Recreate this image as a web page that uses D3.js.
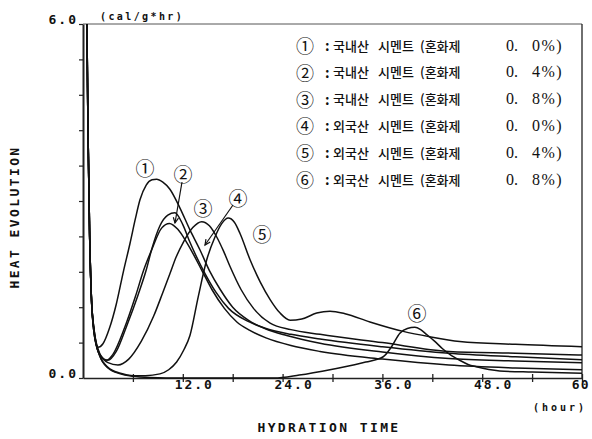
<!DOCTYPE html>
<html>
<head>
<meta charset="utf-8">
<script src="https://cdn.jsdelivr.net/npm/d3@7"></script>
<style>
  html, body { margin: 0; padding: 0; background: #fff; }
  svg { display: block; }
  .mono { font-family: "DejaVu Sans Mono", monospace; font-weight: bold; fill: #111; }
</style>
</head>
<body>
<svg id="chart" width="592" height="439"></svg>
<script>
// Heat evolution rate (cal/g*hr) against hydration time (hour), pairs of [hour, value]
const series1 = [[0.45,6.3],[0.6,4.2],[0.8,2.4],[1.0,1.4],[1.3,0.8],[1.8,0.52],[2.4,0.58],[3.2,0.85],[4.0,1.25],[4.85,1.8],[5.65,2.28],[6.3,2.7],[6.85,3.02],[7.6,3.27],[8.3,3.36],[8.85,3.37],[9.6,3.32],[10.45,3.2],[11.66,2.88],[12.86,2.51],[14.07,2.17],[15.2,1.82],[16.5,1.5],[18,1.2],[20,0.97],[22,0.83],[24.5,0.72],[28.5,0.59],[36,0.44],[44,0.33],[52,0.29],[60,0.26]];
const series2 = [[0.45,6.3],[0.6,4.2],[0.8,2.4],[1.0,1.4],[1.3,0.85],[2.0,0.4],[2.8,0.3],[3.6,0.4],[5.0,0.85],[6.3,1.38],[7.3,1.83],[8.25,2.17],[9.45,2.54],[10.4,2.62],[11.4,2.52],[12.46,2.3],[14.27,1.83],[15.5,1.5],[17,1.18],[18.5,0.95],[20,0.81],[22,0.68],[25,0.55],[28.5,0.45],[36,0.32],[44,0.22],[52,0.17],[60,0.14]];
const series3 = [[0.45,6.3],[0.6,4.2],[0.8,2.4],[1.0,1.4],[1.3,0.85],[2.0,0.42],[3.0,0.26],[4.2,0.22],[5.5,0.32],[7,0.62],[8.5,1.05],[9.6,1.45],[10.46,1.77],[11.2,2.05],[12.06,2.3],[13.2,2.55],[14.27,2.65],[15.2,2.58],[16.08,2.39],[16.9,2.15],[17.68,1.89],[19,1.5],[20.5,1.18],[22.5,0.93],[25,0.82],[28.5,0.74],[36,0.6],[44,0.45],[52,0.42],[60,0.39]];
const series4 = [[0.45,6.3],[0.6,4.2],[0.8,2.4],[1.0,1.4],[1.3,0.85],[2.0,0.4],[3.0,0.3],[4.0,0.45],[5.3,0.9],[6.6,1.4],[7.6,1.83],[8.3,2.2],[9.25,2.58],[10.2,2.76],[11.05,2.8],[12,2.6],[12.86,2.3],[14.67,1.77],[16,1.45],[17.5,1.18],[20,0.95],[22,0.84],[25,0.74],[28.5,0.66],[36,0.53],[44,0.42],[52,0.36],[60,0.31]];
const series5 = [[0.45,6.3],[0.6,4.2],[0.8,2.4],[1.0,1.4],[1.3,0.8],[2.0,0.38],[3.0,0.18],[4.5,0.08],[6,0.04],[7.5,0.04],[9.25,0.07],[10.3,0.14],[11.26,0.27],[12.1,0.47],[12.86,0.72],[13.86,1.38],[14.87,2.0],[15.87,2.39],[16.7,2.62],[17.46,2.71],[18.2,2.64],[18.88,2.45],[20.1,2.0],[21.3,1.63],[22.5,1.33],[23.7,1.1],[24.9,0.98],[26.3,1.0],[28.1,1.1],[29.7,1.13],[31.5,1.09],[34.5,0.95],[38.5,0.79],[41.7,0.7],[45.3,0.62],[52,0.57],[60,0.53]];
const series6 = [[0.45,6.3],[0.6,4.2],[0.8,2.4],[1.0,1.4],[1.3,0.8],[2.0,0.38],[3.0,0.17],[4.5,0.07],[6,0.03],[8,0.01],[12,0.0],[18,0.0],[23,0.0],[26,0.05],[30,0.15],[34,0.27],[36.1,0.36],[37.1,0.53],[38.1,0.76],[39,0.84],[39.9,0.86],[40.6,0.82],[41.3,0.74],[42.3,0.62],[43.2,0.5],[44.1,0.4],[45.3,0.3],[46.3,0.23],[47.3,0.19],[50.1,0.12],[54,0.1],[60,0.08]];

const seriesMarks = ["①","②","③","④","⑤","⑥"];
const cementOrigin = ["국내산","국내산","국내산","외국산","외국산","외국산"];
const admixtureWhole = ["0.","0.","0.","0.","0.","0."];
const admixtureTenth = ["0%)","4%)","8%)","0%)","4%)","8%)"];

const xTicks = [6,12,18,24,30,36,42,48,54,60];
const xTickLabels = [12,24,36,48,60];
const yTicks = [0,0.6,1.2,1.8,2.4,3.0,3.6,4.2,4.8,5.4,6.0];
const yTickLabels = [0,6];

const svg = d3.select("#chart");
const plotLeft = 83, plotRight = 582, plotTop = 24, plotBottom = 378;

const x = d3.scaleLinear().domain([0, 60]).range([plotLeft, plotRight]);
const y = d3.scaleLinear().domain([0, 6]).range([plotBottom, plotTop]);

// clip region for the curves (initial spike runs off the top)
svg.append("defs").append("clipPath").attr("id", "plotClip")
  .append("rect").attr("x", plotLeft).attr("y", plotTop)
  .attr("width", plotRight - plotLeft).attr("height", plotBottom - plotTop + 2);

// frame: top and right borders
svg.append("line").attr("x1", plotLeft).attr("x2", plotRight).attr("y1", plotTop).attr("y2", plotTop)
  .attr("stroke", "#555").attr("stroke-width", 1);
svg.append("line").attr("x1", plotRight).attr("x2", plotRight).attr("y1", plotTop).attr("y2", plotBottom)
  .attr("stroke", "#222").attr("stroke-width", 1.3);

// x axis; the last label sits at the right edge, so it drops the decimal
const xAxis = svg.append("g").attr("transform", `translate(0,${plotBottom})`)
  .call(d3.axisBottom(x).tickValues(xTicks).tickSize(4).tickSizeOuter(0)
    .tickFormat(d => !xTickLabels.includes(d) ? "" : (d === 60 ? "60" : d.toFixed(1))));
xAxis.select(".domain").attr("stroke", "#222").attr("stroke-width", 1.4);
xAxis.selectAll(".tick line").attr("y1", -4).attr("stroke", "#222").attr("stroke-width", 1.3);
xAxis.selectAll(".tick text").attr("class", "mono").attr("font-size", 13)
  .attr("letter-spacing", d => d === 60 ? 1 : 2).attr("dx", d => d === 60 ? 0 : 11)
  .attr("text-anchor", d => d === 60 ? "end" : "middle")
  .attr("x", d => d === 60 ? 7 : 0)
  .attr("dy", 4).attr("fill", "#111");

// y axis
const yAxis = svg.append("g").attr("transform", `translate(${plotLeft},0)`)
  .call(d3.axisLeft(y).tickValues(yTicks).tickSize(4).tickSizeOuter(0)
    .tickFormat(d => yTickLabels.includes(d) ? d.toFixed(1) : ""));
yAxis.select(".domain").attr("stroke", "#222").attr("stroke-width", 2);
yAxis.selectAll(".tick line").attr("stroke", "#222").attr("stroke-width", 1.2);
yAxis.selectAll(".tick text").attr("class", "mono").attr("font-size", 13)
  .attr("letter-spacing", 2).attr("dy", -1).attr("dx", 2).attr("fill", "#111");

// units and axis titles
svg.append("text").attr("class", "mono").attr("x", 100).attr("y", 20)
  .attr("font-size", 10).attr("letter-spacing", 2.4).text("(cal/g*hr)");
svg.append("text").attr("class", "mono").attr("x", 533).attr("y", 411)
  .attr("font-size", 10).attr("letter-spacing", 3).text("(hour)");
svg.append("text").attr("class", "mono").attr("x", 329).attr("y", 432)
  .attr("text-anchor", "middle").attr("font-size", 13).attr("letter-spacing", 2.4)
  .text("HYDRATION TIME");
svg.append("text").attr("class", "mono").attr("font-weight", "normal")
  .attr("transform", "translate(19,217) rotate(-90)")
  .attr("text-anchor", "middle").attr("font-size", 13).attr("letter-spacing", 2.4)
  .text("HEAT EVOLUTION");

// curves
const line = d3.line().x(d => x(d[0])).y(d => y(d[1])).curve(d3.curveMonotoneX);
const plot = svg.append("g").attr("clip-path", "url(#plotClip)");
[series1, series2, series3, series4, series5, series6].forEach(s => {
  plot.append("path").datum(s).attr("d", line)
    .attr("fill", "none").attr("stroke", "#111").attr("stroke-width", 1.5)
    .attr("stroke-linejoin", "round");
});

// curve markers
const markerPos = [[145,167],[183,173],[203,207],[238,197],[262,233],[417,312]];
const markFont = "'Noto Sans CJK KR', sans-serif";
markerPos.forEach((p, i) => {
  svg.append("text").attr("x", p[0]).attr("y", p[1]).attr("text-anchor", "middle")
    .attr("dominant-baseline", "central").attr("font-family", markFont)
    .attr("font-size", 19).attr("fill", "#111").text(seriesMarks[i]);
});

// pointer arrows for ② and ④
function arrow(x1, y1, x2, y2) {
  svg.append("line").attr("x1", x1).attr("y1", y1).attr("x2", x2).attr("y2", y2)
    .attr("stroke", "#111").attr("stroke-width", 1.2);
  const a = Math.atan2(y2 - y1, x2 - x1), L = 6, w = 0.45;
  const p1 = [x2 - L * Math.cos(a - w), y2 - L * Math.sin(a - w)];
  const p2 = [x2 - L * Math.cos(a + w), y2 - L * Math.sin(a + w)];
  svg.append("path").attr("d", `M${p1}L${x2},${y2}L${p2}`)
    .attr("fill", "none").attr("stroke", "#111").attr("stroke-width", 1.2);
}
arrow(182, 182, 175, 223);
arrow(233, 205, 205, 245);

// legend
const legendRow0 = 45, legendStep = 26.8;
seriesMarks.forEach((m, i) => {
  const yy = legendRow0 + i * legendStep;
  const g = svg.append("g").attr("font-family", markFont).attr("fill", "#111")
    .attr("dominant-baseline", "central");
  g.append("text").attr("x", 305).attr("y", yy).attr("text-anchor", "middle")
    .attr("font-size", 18).text(m);
  g.append("text").attr("x", 325).attr("y", yy).attr("font-size", 14).attr("font-weight", "bold").text(":");
  g.append("text").attr("x", 333).attr("y", yy).attr("font-size", 13).attr("font-weight", 500).text(cementOrigin[i]);
  g.append("text").attr("x", 378).attr("y", yy).attr("font-size", 13).attr("font-weight", 500).text("시멘트");
  g.append("text").attr("x", 420).attr("y", yy).attr("font-size", 13).attr("font-weight", 500).text("(혼화제");
  g.append("text").attr("x", 506).attr("y", yy).attr("font-family", "'Liberation Serif', serif")
    .attr("font-size", 16).text(admixtureWhole[i]);
  g.append("text").attr("x", 532).attr("y", yy).attr("font-family", "'Liberation Serif', serif")
    .attr("font-size", 16).attr("letter-spacing", 1.5).text(admixtureTenth[i]);
});
</script>
</body>
</html>
